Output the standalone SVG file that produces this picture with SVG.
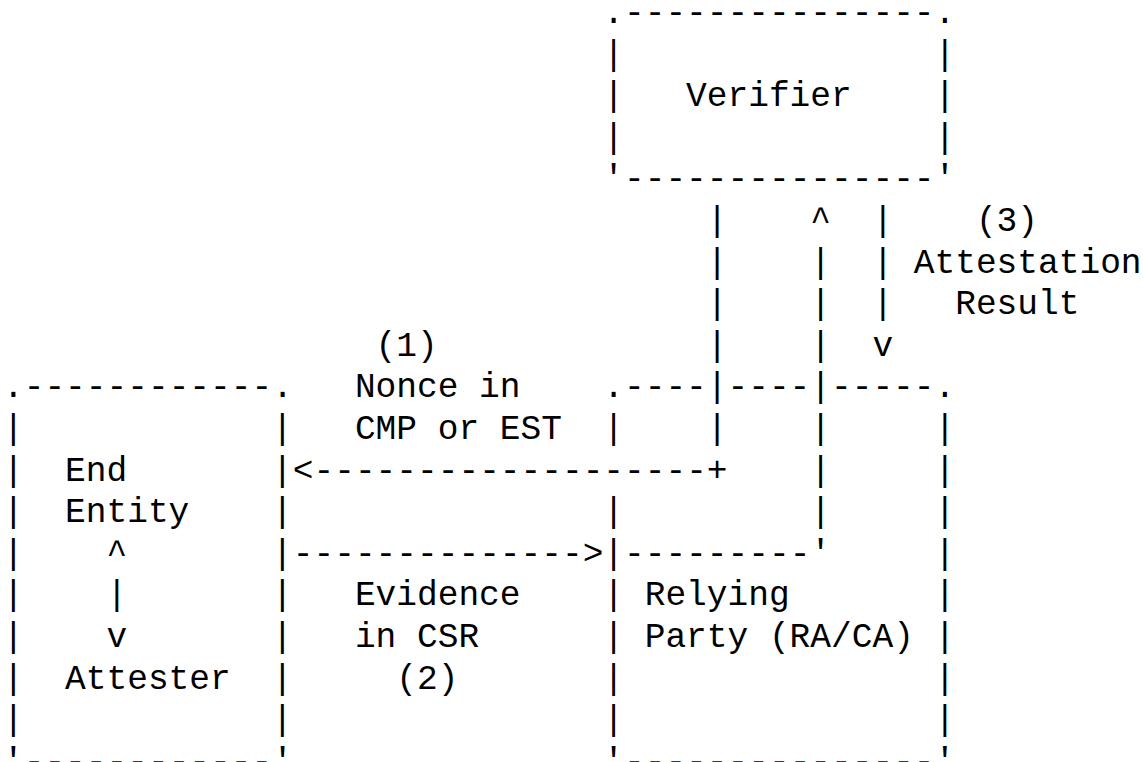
<svg xmlns="http://www.w3.org/2000/svg" width="1143" height="762" viewBox="0 0 1143 762" xml:space="preserve">
<style>
text{font-family:"Liberation Mono","Courier New",monospace;font-size:34.5px;fill:#000;white-space:pre}
</style>
<rect width="1143" height="762" fill="#fff"/>
<g id="verifier"><text><tspan x="603.3" y="23">.---------------.</tspan><tspan x="603.3" y="64.6">|</tspan><tspan x="934.5" y="64.6">|</tspan><tspan x="603.3" y="106.2">|</tspan><tspan x="686.1" y="106.2">Verifier</tspan><tspan x="934.5" y="106.2">|</tspan><tspan x="603.3" y="147.8">|</tspan><tspan x="934.5" y="147.8">|</tspan><tspan x="603.3" y="189.4">'---------------'</tspan></text></g>
<g id="end-entity"><text><tspan x="3" y="397.4">.------------.</tspan><tspan x="3" y="439">|</tspan><tspan x="272.1" y="439">|</tspan><tspan x="3" y="480.6">|</tspan><tspan x="65.1" y="480.6">End</tspan><tspan x="272.1" y="480.6">|</tspan><tspan x="3" y="522.2">|</tspan><tspan x="65.1" y="522.2">Entity</tspan><tspan x="272.1" y="522.2">|</tspan><tspan x="3" y="563.8">|</tspan><tspan x="106.5" y="563.8">^</tspan><tspan x="272.1" y="563.8">|</tspan><tspan x="3" y="605.4">|</tspan><tspan x="106.5" y="605.4">|</tspan><tspan x="272.1" y="605.4">|</tspan><tspan x="3" y="647">|</tspan><tspan x="106.5" y="647">v</tspan><tspan x="272.1" y="647">|</tspan><tspan x="3" y="688.6">|</tspan><tspan x="65.1" y="688.6">Attester</tspan><tspan x="272.1" y="688.6">|</tspan><tspan x="3" y="730.2">|</tspan><tspan x="272.1" y="730.2">|</tspan><tspan x="3" y="771.8">'------------'</tspan></text></g>
<g id="relying-party"><text><tspan x="603.3" y="397.4">.----</tspan><tspan x="727.5" y="397.4">----</tspan><tspan x="831" y="397.4">-----.</tspan><tspan x="603.3" y="439">|</tspan><tspan x="934.5" y="439">|</tspan><tspan x="934.5" y="480.6">|</tspan><tspan x="603.3" y="522.2">|</tspan><tspan x="934.5" y="522.2">|</tspan><tspan x="603.3" y="563.8">|</tspan><tspan x="934.5" y="563.8">|</tspan><tspan x="603.3" y="605.4">|</tspan><tspan x="644.7" y="605.4">Relying</tspan><tspan x="934.5" y="605.4">|</tspan><tspan x="603.3" y="647">|</tspan><tspan x="644.7" y="647">Party (RA/CA)</tspan><tspan x="934.5" y="647">|</tspan><tspan x="603.3" y="688.6">|</tspan><tspan x="934.5" y="688.6">|</tspan><tspan x="603.3" y="730.2">|</tspan><tspan x="934.5" y="730.2">|</tspan><tspan x="603.3" y="771.8">'---------------'</tspan></text></g>
<g id="connectors">
<text id="nonce"><tspan x="706.8" y="231">|</tspan><tspan x="706.8" y="272.6">|</tspan><tspan x="706.8" y="314.2">|</tspan><tspan x="706.8" y="355.8">|</tspan><tspan x="706.8" y="397.4">|</tspan><tspan x="706.8" y="439">|</tspan><tspan x="292.8" y="480.6">&lt;-------------------+</tspan></text>
<text id="evidence"><tspan x="292.8" y="563.8">--------------&gt;</tspan><tspan x="624" y="563.8">---------'</tspan><tspan x="810.3" y="522.2">|</tspan><tspan x="810.3" y="480.6">|</tspan><tspan x="810.3" y="439">|</tspan><tspan x="810.3" y="397.4">|</tspan><tspan x="810.3" y="355.8">|</tspan><tspan x="810.3" y="314.2">|</tspan><tspan x="810.3" y="272.6">|</tspan><tspan x="810.3" y="231">^</tspan></text>
<text id="result"><tspan x="872.4" y="231">|</tspan><tspan x="872.4" y="272.6">|</tspan><tspan x="872.4" y="314.2">|</tspan><tspan x="872.4" y="355.8">v</tspan></text>
</g>
<g id="labels"><text><tspan x="375.6" y="355.8">(1)</tspan><tspan x="354.9" y="397.4">Nonce in</tspan><tspan x="354.9" y="439">CMP or EST</tspan><tspan x="354.9" y="605.4">Evidence</tspan><tspan x="354.9" y="647">in CSR</tspan><tspan x="396.3" y="688.6">(2)</tspan><tspan x="975.9" y="231">(3)</tspan><tspan x="913.8" y="272.6">Attestation</tspan><tspan x="955.2" y="314.2">Result</tspan></text></g>
</svg>
